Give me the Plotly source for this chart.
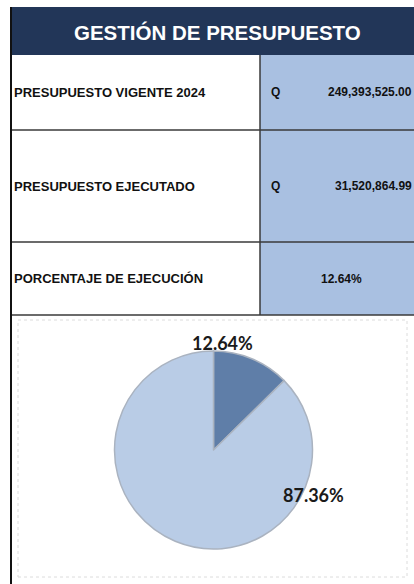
import plotly.graph_objects as go

# ---- data ----
title = "GESTIÓN DE PRESUPUESTO"
row_labels = ["PRESUPUESTO VIGENTE 2024", "PRESUPUESTO EJECUTADO", "PORCENTAJE DE EJECUCIÓN"]
row_currency = ["Q", "Q", ""]
row_values = ["249,393,525.00", "31,520,864.99", "12.64%"]
pie_labels = ["Ejecutado", "No ejecutado"]
pie_values = [12.64, 87.36]
pie_colors = ["#5f7ea8", "#b9cce6"]

W, H = 414, 584

def px(x):
    return x / W

def py(y):
    return 1 - y / H

fig = go.Figure()

fig.add_trace(go.Pie(
    labels=pie_labels, values=pie_values, sort=False, direction="clockwise",
    rotation=0, textinfo="none", hoverinfo="label+percent",
    marker=dict(colors=pie_colors, line=dict(color="#aab3c0", width=1.5)),
    domain=dict(x=[px(114), px(313)], y=[py(549), py(351)]),
    showlegend=False,
))

shapes = []
ann = []
FONT = "Liberation Sans, Arial"

# header
shapes.append(dict(type="rect", xref="paper", yref="paper", x0=px(11), x1=px(414), y0=py(55), y1=py(7),
                   fillcolor="#223658", line=dict(width=0), layer="below"))
ann.append(dict(x=px(217), y=py(32), xref="paper", yref="paper", text="<b>%s</b>" % title, showarrow=False,
                font=dict(family=FONT, size=20.5, color="white"), xanchor="center", yanchor="middle"))

# rows
row_bounds = [(55, 130), (130, 242), (242, 315)]
for i, (y0, y1) in enumerate(row_bounds):
    shapes.append(dict(type="rect", xref="paper", yref="paper", x0=px(260), x1=px(414), y0=py(y1), y1=py(y0),
                       fillcolor="#a9c0e1", line=dict(width=0), layer="below"))
    shapes.append(dict(type="line", xref="paper", yref="paper", x0=px(11), x1=px(414), y0=py(y1), y1=py(y1),
                       line=dict(color="#3a3a3a", width=1.5)))
    yc = (y0 + y1) / 2
    ann.append(dict(x=px(12), y=py(yc), xref="paper", yref="paper", text="<b>%s</b>" % row_labels[i],
                    showarrow=False, xanchor="left", yanchor="middle",
                    font=dict(family=FONT, size=13, color="#111")))
    if row_currency[i]:
        ann.append(dict(x=px(269), y=py(yc), xref="paper", yref="paper", text="<b>%s</b>" % row_currency[i],
                        showarrow=False, xanchor="left", yanchor="middle",
                        font=dict(family=FONT, size=12, color="#111")))
        ann.append(dict(x=px(414), y=py(yc), xref="paper", yref="paper", text="<b>%s</b>" % row_values[i],
                        showarrow=False, xanchor="right", yanchor="middle",
                        font=dict(family=FONT, size=12, color="#111")))
    else:
        ann.append(dict(x=px(341), y=py(yc), xref="paper", yref="paper", text="<b>%s</b>" % row_values[i],
                        showarrow=False, xanchor="center", yanchor="middle",
                        font=dict(family=FONT, size=12, color="#111")))

# column divider
shapes.append(dict(type="line", xref="paper", yref="paper", x0=px(260), x1=px(260), y0=py(315), y1=py(55),
                   line=dict(color="#3a3a3a", width=1.5)))
# left border
shapes.append(dict(type="line", xref="paper", yref="paper", x0=px(11), x1=px(11), y0=0, y1=py(7),
                   line=dict(color="#111", width=2)))
# chart area faint box
shapes.append(dict(type="rect", xref="paper", yref="paper", x0=px(18), x1=px(407), y0=py(577), y1=py(320),
                   line=dict(color="#dcdcdc", width=1, dash="dot"), fillcolor="rgba(0,0,0,0)"))

# pie labels
ann.append(dict(x=px(223), y=py(343), xref="paper", yref="paper", text="<b>%.2f%%</b>" % pie_values[0],
                showarrow=False, xanchor="center", yanchor="middle",
                font=dict(family="Lato", size=18, color="#1a1a1a")))
ann.append(dict(x=px(313), y=py(495), xref="paper", yref="paper", text="<b>%.2f%%</b>" % pie_values[1],
                showarrow=False, xanchor="center", yanchor="middle",
                font=dict(family="Lato", size=18, color="#1a1a1a")))

fig.update_layout(width=W, height=H, margin=dict(l=0, r=0, t=0, b=0),
                  paper_bgcolor="white", plot_bgcolor="white",
                  shapes=shapes, annotations=ann)

fig.write_html("out.html", config={"displayModeBar": False},
               post_script="document.body.style.margin='0';document.body.style.overflow='hidden';")
